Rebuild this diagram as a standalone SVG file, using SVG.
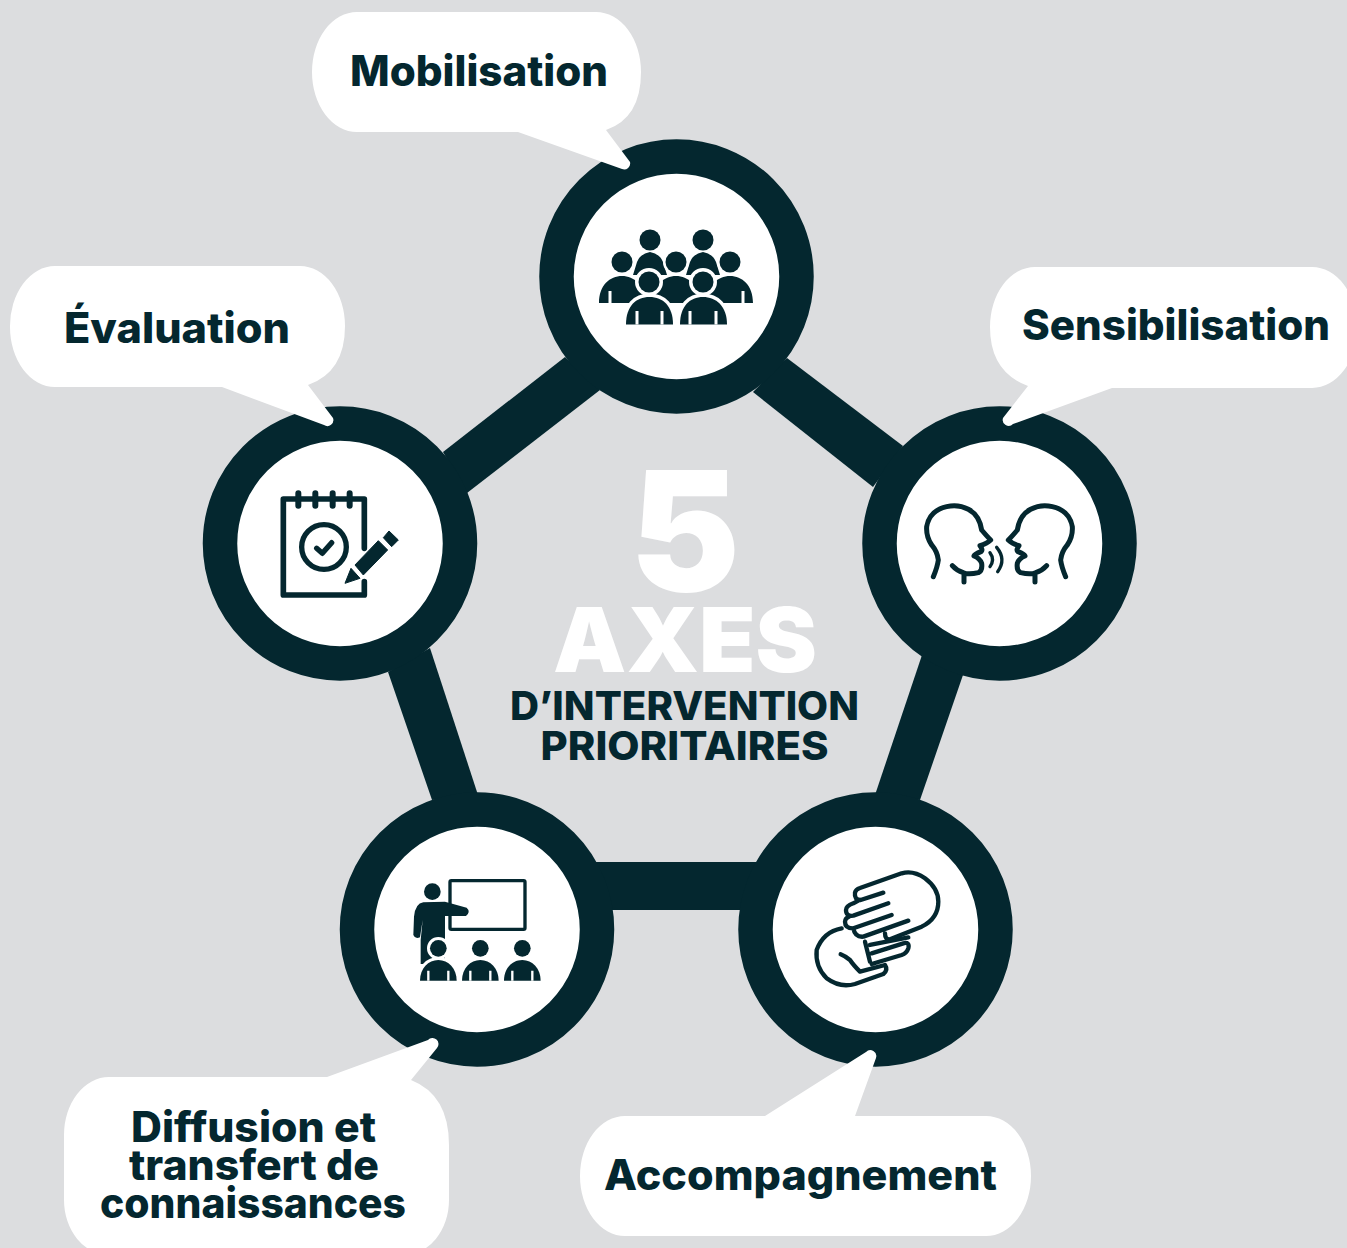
<svg xmlns="http://www.w3.org/2000/svg" width="1347" height="1248" viewBox="0 0 1347 1248">
<style>
.ring{fill:#fff;stroke:#04272f;stroke-width:34.500}
.bar{fill:#04272f}
.bubble{fill:#fff}
text{font-family:"Inter","Liberation Sans",sans-serif;font-weight:800;text-anchor:middle;fill:#04272f}
.lbl{font-size:42px}
.ln{fill:none;stroke:#04272f;stroke-linecap:round;stroke-linejoin:round}
.fill{fill:#04272f}
.cut{fill:#04272f;stroke:#fff;stroke-width:7;paint-order:stroke}
.slit{stroke:#fff;stroke-width:3;fill:none}
</style>
<defs>
<path id="face" class="ln" stroke-width="15" d="M100 290Q112 262 115 240Q112 215 95 195Q78 170 80 140Q88 92 140 80Q175 72 205 88Q238 105 245 150Q262 170 272 180Q262 190 240 197Q250 210 243 215Q225 222 222 228Q240 235 245 250Q248 272 235 278Q205 285 190 278Q170 272 157 257M192 285V306"/>
</defs>
<rect width="1347" height="1248" fill="#dcdddf"/>
<g id="connectors">
<polygon class="bar" points="787,358 903,446 873,487 753,392"/>
<polygon class="bar" points="565,357 443,452 467,493 600,390"/>
<polygon class="bar" points="388,672 432,800 478,795 430,648"/>
<polygon class="bar" points="920,800 963,675 922,655 875,795"/>
<rect class="bar" x="590" y="862" width="170" height="48"/>
</g>
<g id="center-title">
<text x="685" y="591" font-size="166" style="fill:#fff;font-weight:900" textLength="110" lengthAdjust="spacingAndGlyphs">5</text>
<text x="685" y="672" font-size="90" style="fill:#fff;font-weight:900" textLength="264" lengthAdjust="spacingAndGlyphs">AXES</text>
<text x="684.500" y="720" font-size="40" textLength="349" lengthAdjust="spacingAndGlyphs">D’INTERVENTION</text>
<text x="684.500" y="760" font-size="40" textLength="288" lengthAdjust="spacingAndGlyphs">PRIORITAIRES</text>
</g>
<g id="node-mobilisation">
<circle class="ring" cx="676.500" cy="276.500" r="120"/>
<g class="fill">
<circle cx="650" cy="240" r="10.500"/><circle cx="703" cy="240" r="10.500"/>
<path d="M637 262Q640 254 650 252Q660 254 663 262L667 275H633ZM690 262Q693 254 703 252Q713 254 716 262L720 275H686Z"/>
<circle class="cut" cx="622" cy="262" r="10.500" style="stroke-width:5"/><circle class="cut" cx="676" cy="262" r="10.500" style="stroke-width:5"/><circle class="cut" cx="730" cy="262" r="10.500" style="stroke-width:5"/>
<path class="cut" d="M599 303C599 285 610 276 622 276S645 285 645 303ZM653 303C653 285 664 276 676 276S699 285 699 303ZM707 303C707 285 718 276 730 276S753 285 753 303Z" style="stroke-width:4"/>
<path class="slit" d="M610 303V291M743 303V291"/>
<circle class="cut" cx="649" cy="282" r="10.500"/><circle class="cut" cx="703" cy="282" r="10.500"/>
<path class="cut" d="M626 324.500C626 306 636 297 649.500 297S673 306 673 324.500Z"/>
<path class="cut" d="M680 324.500C680 306 690 297 703 297S727 306 727 324.500Z"/>
<path class="slit" d="M637 324.500V311M662 324.500V311M690 324.500V311M716 324.500V311"/>
</g>
<path class="bubble" d="M357 12H596A45 60 0 0 1 641 72Q641 118 606 130L630 162A6 6 0 0 1 622 169L518 132H357A45 60 0 0 1 312 72A45 60 0 0 1 357 12Z"/>
<text class="lbl" x="479" y="86" textLength="258" lengthAdjust="spacingAndGlyphs">Mobilisation</text>
</g>
<g id="node-sensibilisation">
<circle class="ring" cx="999.500" cy="543.500" r="120"/>
<g transform="translate(900 480) scale(.3333)">
<use href="#face"/>
<use href="#face" transform="translate(597 0) scale(-1 1)"/>
<path class="ln" stroke-width="10" d="M270 218Q285 238 270 260M290 202Q320 238 293 275"/>
</g>
<path class="bubble" d="M1035 267H1312A45 60 0 0 1 1357 327A45 60 0 0 1 1312 388H1112L1013 424A6 6 0 0 1 1003 418L1028 386Q990 372 990 327A45 60 0 0 1 1035 267Z"/>
<text class="lbl" x="1176" y="340" textLength="308" lengthAdjust="spacingAndGlyphs">Sensibilisation</text>
</g>
<g id="node-accompagnement">
<circle class="ring" cx="875.500" cy="929.500" r="120"/>
<g transform="translate(790 850) scale(.3333)">
<path class="ln" stroke-width="13" d="M280 128L212 150Q192 150 195 128Q197 118 210 114L335 70Q370 60 405 85Q445 115 445 155Q445 205 395 230L300 268Q285 270 285 250M295 160L190 197Q168 200 168 180Q168 168 190 160L205 152M305 195L190 235Q165 235 165 215Q165 205 180 198M190 235Q195 262 220 260L355 212"/>
<path class="ln" stroke-width="13" d="M155 235Q100 245 80 300Q75 350 110 385Q150 415 195 402L280 372Q295 360 285 345L210 365Q190 345 180 330Q165 318 152 313M225 275L240 335M240 285L355 262M245 310L340 280Q360 275 355 295Q350 310 335 315L245 342"/>
</g>
<path class="bubble" d="M625 1116H986A45 60 0 0 1 1031 1176A45 60 0 0 1 986 1236H625A45 60 0 0 1 580 1176A45 60 0 0 1 625 1116H765L866 1052A6 6 0 0 1 876 1058L855 1116Z"/>
<text class="lbl" x="800.500" y="1190" textLength="393" lengthAdjust="spacingAndGlyphs">Accompagnement</text>
</g>
<g id="node-diffusion">
<circle class="ring" cx="477" cy="929.500" r="120"/>
<g transform="translate(400 860) scale(.3333)">
<rect x="150" y="62" width="225" height="146" rx="4" fill="none" stroke="#04272f" stroke-width="10"/>
<circle class="fill" cx="97" cy="95" r="25"/>
<path class="fill" d="M70 127Q46 130 42 170L40 225Q45 238 60 232L68 180L62 240V312H135V168H198Q213 155 200 143L135 125Z"/>
<circle class="cut" cx="115" cy="265" r="25" style="stroke-width:18"/>
<circle class="fill" cx="241" cy="265" r="25"/><circle class="fill" cx="367" cy="265" r="25"/>
<path class="cut" d="M60 362C60 325 85 300 115 300S170 325 170 362Z" style="stroke-width:18"/>
<path class="fill" d="M186 362C186 325 211 300 241 300S296 325 296 362Z"/>
<path class="fill" d="M312 362C312 325 337 300 367 300S422 325 422 362Z"/>
<path d="M85 362V332M145 362V332M211 362V332M271 362V332M337 362V332M397 362V332" stroke="#fff" stroke-width="7"/>
</g>
<path class="bubble" d="M109 1077H327L428 1040A6 6 0 0 1 437 1048L411 1080Q449 1095 449 1145V1200A45 55 0 0 1 404 1255H109A45 55 0 0 1 64 1200V1135A45 58 0 0 1 109 1077Z"/>
<text class="lbl" x="253.500" y="1142" textLength="245" lengthAdjust="spacingAndGlyphs">Diffusion et</text>
<text class="lbl" x="254" y="1180" textLength="250" lengthAdjust="spacingAndGlyphs">transfert de</text>
<text class="lbl" x="253" y="1218" textLength="306" lengthAdjust="spacingAndGlyphs">connaissances</text>
</g>
<g id="node-evaluation">
<circle class="ring" cx="340" cy="543.500" r="120"/>
<g transform="translate(265 475) scale(.3333)">
<path class="ln" stroke-width="17" stroke-linecap="butt" d="M298 220V72H55V360H298V320"/>
<path class="ln" stroke-width="18" d="M100 55V92M151 55V92M203 55V92M254 55V92"/>
<circle cx="177" cy="216" r="67" fill="none" stroke="#04272f" stroke-width="16"/>
<path class="ln" stroke-width="16" d="M155 220L172 235L200 203"/>
<path class="fill" d="M270 270L340 197L368 225L295 300ZM258 280L285 310L240 325ZM372 168L400 195L380 215L355 188Z" stroke="#04272f" stroke-width="3" stroke-linejoin="round"/>
</g>
<path class="bubble" d="M55 266H300A45 60 0 0 1 345 326Q345 372 308 385L333 418A6 6 0 0 1 324 425L222 387H55A45 60 0 0 1 10 327A45 60 0 0 1 55 266Z"/>
<text class="lbl" x="177" y="343" textLength="226" lengthAdjust="spacingAndGlyphs">Évaluation</text>
</g>
</svg>
